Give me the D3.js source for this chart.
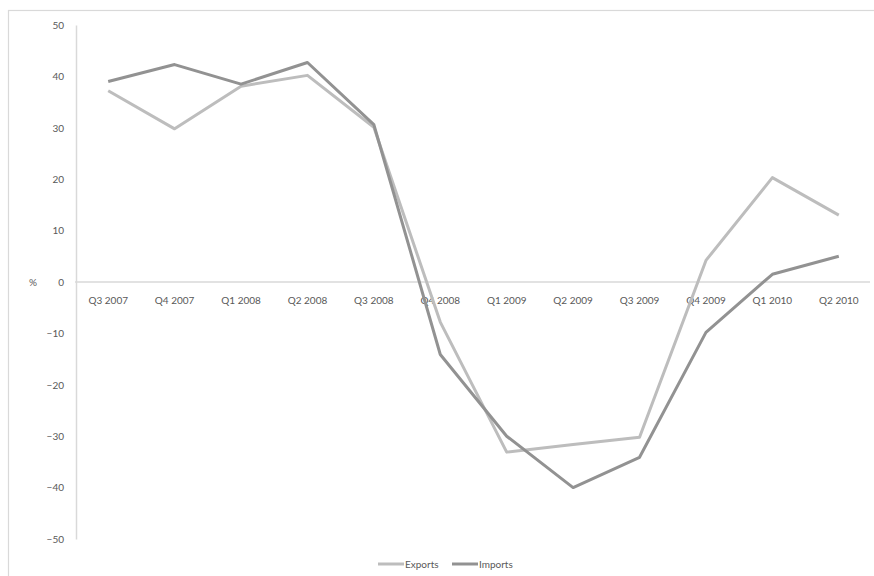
<!DOCTYPE html>
<html>
<head>
<meta charset="utf-8">
<script src="https://cdn.jsdelivr.net/npm/d3@7/dist/d3.min.js"></script>
<style>
  html, body { margin: 0; padding: 0; background: #fff; }
  svg { display: block; }
  text { font-family: Lato, "Open Sans", sans-serif; fill: #595959; }
</style>
</head>
<body>
<svg id="chart" width="874" height="576"></svg>
<script>
// Quarterly year-on-year growth of trade, per cent
const quarters = ["Q3 2007", "Q4 2007", "Q1 2008", "Q2 2008", "Q3 2008", "Q4 2008",
                  "Q1 2009", "Q2 2009", "Q3 2009", "Q4 2009", "Q1 2010", "Q2 2010"];
const exportsGrowth = [37.2, 29.8, 38.1, 40.2, 30.1, -7.8, -33.1, -31.6, -30.2, 4.2, 20.3, 13.0];
const importsGrowth = [39.0, 42.3, 38.5, 42.7, 30.6, -14.1, -30.0, -40.0, -34.1, -9.8, 1.5, 5.0];
const yTicks = [50, 40, 30, 20, 10, 0, -10, -20, -30, -40, -50];

const series = [
  { name: "Exports", values: exportsGrowth, color: "#bdbdbd" },
  { name: "Imports", values: importsGrowth, color: "#929292" }
];

const svg = d3.select("#chart");

// outer chart frame (runs off the right and bottom of the page)
svg.append("rect")
  .attr("x", 8.5).attr("y", 10.5)
  .attr("width", 880).attr("height", 580)
  .attr("fill", "none").attr("stroke", "#d9d9d9").attr("stroke-width", 1.2);

const x = d3.scaleBand().domain(quarters).range([75, 872]);
const y = d3.scaleLinear().domain([-50, 50]).range([539, 25]);

// vertical value axis with labels only
const yAxis = svg.append("g").attr("transform", "translate(76,0)")
  .call(d3.axisLeft(y).tickValues(yTicks).tickSize(0).tickPadding(12));
yAxis.select(".domain").attr("stroke", "#d9d9d9").attr("stroke-width", 1.5);
yAxis.selectAll("text").style("font-size", "10px").attr("fill", "#595959");

// zero line acting as the category axis
const xAxis = svg.append("g").attr("transform", `translate(0,${y(0)})`)
  .call(d3.axisBottom(x).tickSize(0).tickPadding(15));
xAxis.select(".domain").attr("stroke", "#d9d9d9").attr("stroke-width", 1.5)
  .attr("d", `M${x.range()[0]},0H${x.range()[1] - 2}`);
xAxis.selectAll("text").style("font-size", "10px").attr("fill", "#595959");

// axis title
svg.append("text").attr("x", 33).attr("y", y(0) + 4)
  .attr("text-anchor", "middle").style("font-size", "10px").text("%");

const line = d3.line()
  .x((d, i) => x(quarters[i]) + x.bandwidth() / 2)
  .y(d => y(d));

series.forEach(s => {
  svg.append("path")
    .datum(s.values)
    .attr("fill", "none")
    .attr("stroke", s.color)
    .attr("stroke-width", 3)
    .attr("stroke-linejoin", "round")
    .attr("d", line);
});

// legend
const legend = svg.append("g").attr("transform", "translate(378,564)");
const items = legend.selectAll("g").data(series).enter().append("g")
  .attr("transform", (d, i) => `translate(${i * 74},0)`);
items.append("line").attr("x1", 0).attr("x2", 26).attr("y1", 0).attr("y2", 0)
  .attr("stroke", d => d.color).attr("stroke-width", 3);
items.append("text").attr("x", 27).attr("y", 3.5)
  .style("font-size", "10px").text(d => d.name);
</script>
</body>
</html>
